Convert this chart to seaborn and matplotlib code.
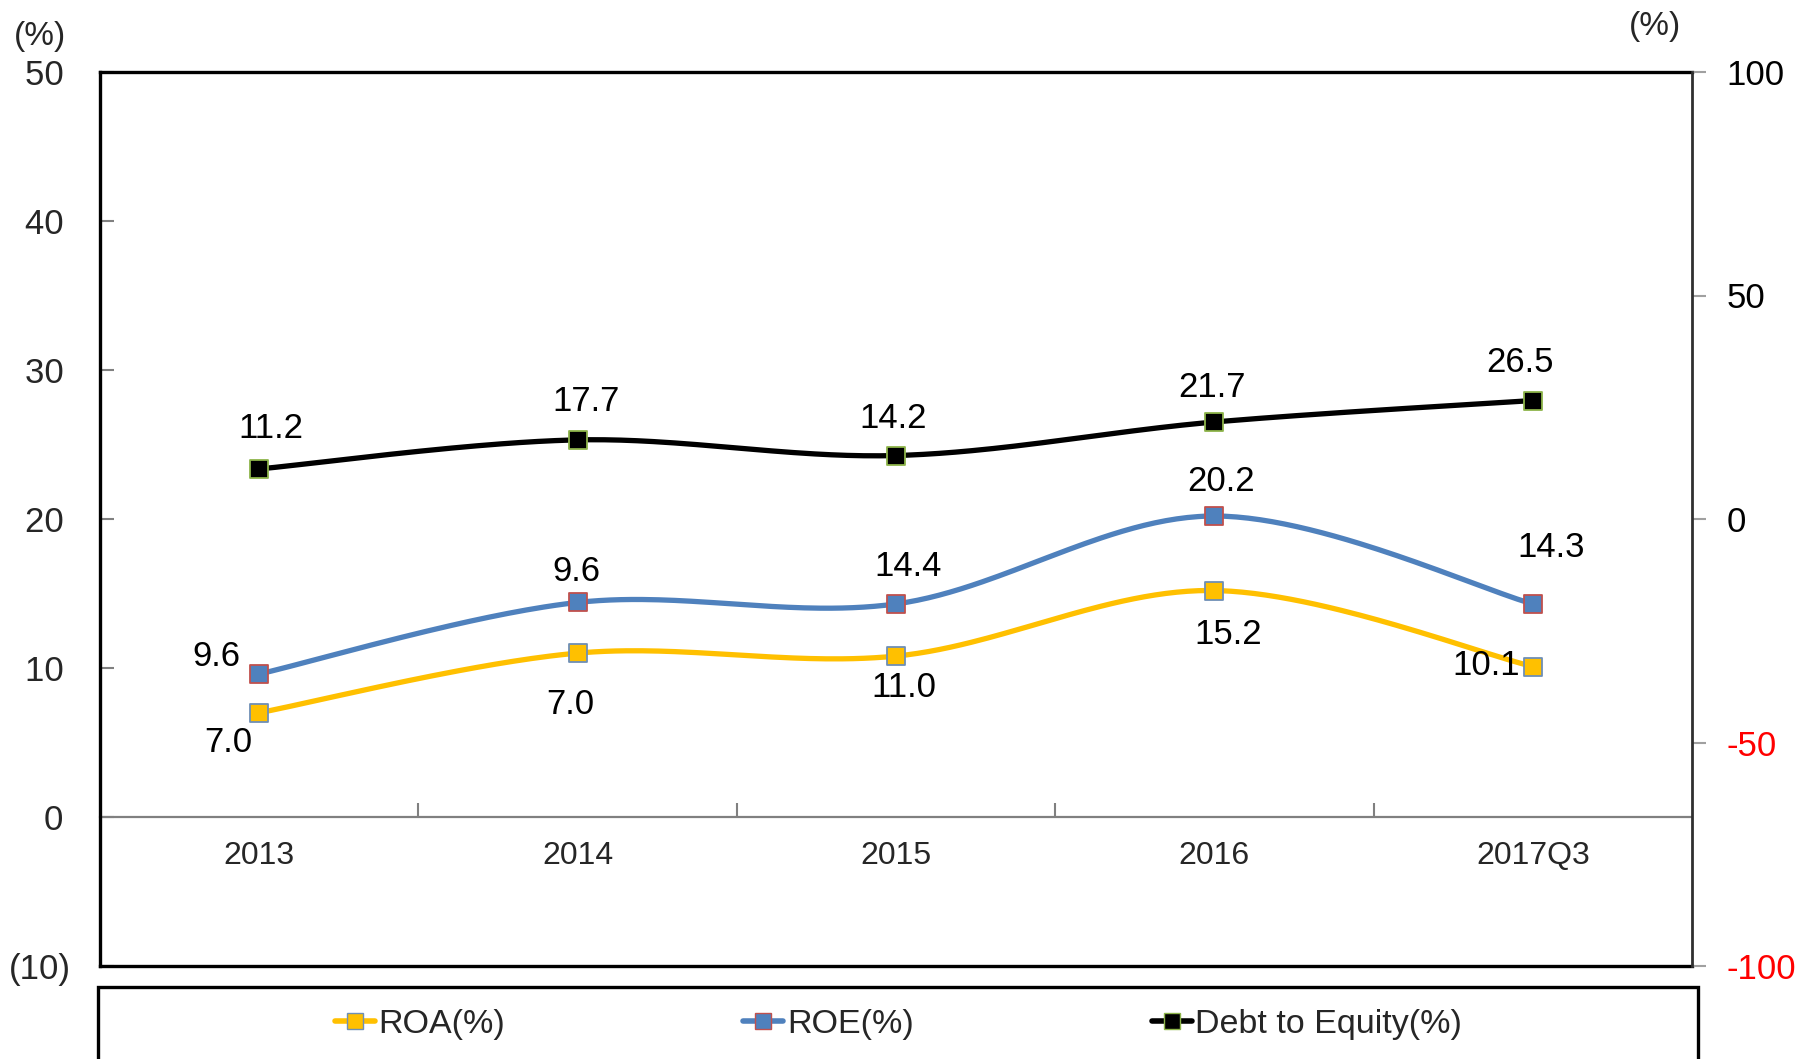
import numpy as np
import pandas as pd
import matplotlib
matplotlib.use("Agg")
import matplotlib.pyplot as plt
from matplotlib.lines import Line2D
from matplotlib.patches import Rectangle
import seaborn as sns

# ---- data -------------------------------------------------------------
periods = ["2013", "2014", "2015", "2016", "2017Q3"]
roa = [7.0, 11.0, 10.8, 15.2, 10.1]
roe = [9.6, 14.4, 14.3, 20.2, 14.3]
debt_to_equity = [11.2, 17.7, 14.2, 21.7, 26.5]

roa_labels = ["7.0", "7.0", "11.0", "15.2", "10.1"]
roe_labels = ["9.6", "9.6", "14.4", "20.2", "14.3"]
dte_labels = ["11.2", "17.7", "14.2", "21.7", "26.5"]

left_ticks = [-10, 0, 10, 20, 30, 40, 50]
left_tick_labels = ["(10)", "0\u2009", "10\u2009", "20\u2009", "30\u2009", "40\u2009", "50\u2009"]
right_ticks = [-100, -50, 0, 50, 100]
right_tick_labels = ["-100", "-50", "0", "50", "100"]
series_names = ["ROA(%)", "ROE(%)", "Debt to Equity(%)"]

# ---- style ------------------------------------------------------------
sns.set_style("white")
plt.rcParams["font.family"] = ["Liberation Sans", "DejaVu Sans"]

ROA_C, ROE_C, DTE_C = "#FFC000", "#4F81BD", "#000000"
ROA_EDGE, ROE_EDGE, DTE_EDGE = "#6E8FB5", "#C0504D", "#8DB44A"

LABEL_FS = 25

# label offsets in pixels (dx, dy) relative to each marker
roa_off = [(-31, -30), (-7, -51), (8, -31), (14, -44), (-47, 1)]
roe_off = [(-43, 17), (-1, 31), (12, 37), (7, 35), (18, 56)]
dte_off = [(12, 40), (8, 38), (-3, 37), (-2, 35), (-13, 38)]


def smooth(xs, ys, n=60):
    """Piecewise cubic Bezier through the points (spreadsheet-style smoothing)."""
    p = np.column_stack([xs, ys]).astype(float)
    ext = np.vstack([p[0], p, p[-1]])
    t = np.linspace(0, 1, n)[:, None]
    out = []
    for i in range(len(p) - 1):
        p0, p3 = p[i], p[i + 1]
        p1 = p0 + (ext[i + 2] - ext[i]) / 6
        p2 = p3 - (ext[i + 3] - ext[i + 1]) / 6
        seg = (1 - t) ** 3 * p0 + 3 * (1 - t) ** 2 * t * p1 + 3 * (1 - t) * t ** 2 * p2 + t ** 3 * p3
        out.append(seg if i == 0 else seg[1:])
    return np.vstack(out)


xpos = np.arange(len(periods))

fig = plt.figure(figsize=(18.06, 10.59), dpi=100)
ax = fig.add_axes([100 / 1806, 1 - 966 / 1059, 1592 / 1806, 894 / 1059])
ax2 = ax.twinx()

ax.set_xlim(-0.5, len(periods) - 0.5)
ax.set_ylim(-10, 50)
ax2.set_ylim(-100, 100)


def draw_series(axis, values, line_c, face_c, edge_c, labels, offsets):
    curve = smooth(xpos, values)
    df = pd.DataFrame({"x": curve[:, 0], "y": curve[:, 1]})
    sns.lineplot(data=df, x="x", y="y", ax=axis, sort=False, estimator=None,
                 color=line_c, linewidth=3.8, zorder=2)
    pts = pd.DataFrame({"x": xpos, "y": values})
    sns.scatterplot(data=pts, x="x", y="y", ax=axis, marker="s", s=150,
                    color=face_c, edgecolor=edge_c, linewidth=1.3, zorder=3)
    for xi, yi, lab, (dx, dy) in zip(xpos, values, labels, offsets):
        axis.annotate(lab, (xi, yi), xytext=(dx, dy), textcoords="offset pixels",
                      ha="center", va="center", fontsize=LABEL_FS, color="black", zorder=4)


draw_series(ax, roa, ROA_C, ROA_C, ROA_EDGE, roa_labels, roa_off)
draw_series(ax, roe, ROE_C, ROE_C, ROE_EDGE, roe_labels, roe_off)
draw_series(ax2, debt_to_equity, DTE_C, DTE_C, DTE_EDGE, dte_labels, dte_off)

for a in (ax, ax2):
    a.set_xlabel("")
    a.set_ylabel("")
    a.grid(False)

# frame
for side in ("left", "top", "bottom"):
    ax.spines[side].set_color("black")
    ax.spines[side].set_linewidth(2.4)
    ax2.spines[side].set_visible(False)
ax.spines["right"].set_visible(False)
ax2.spines["right"].set_color("#303030")
ax2.spines["right"].set_linewidth(2.0)

# left axis
ax.set_yticks(left_ticks, left_tick_labels)
ax.tick_params(axis="y", direction="in", length=10, width=1.5, color="#808080",
               pad=21, labelsize=LABEL_FS, left=True)
ax.tick_params(axis="x", bottom=False, labelbottom=False)

# right axis
ax2.set_yticks(right_ticks, right_tick_labels)
ax2.tick_params(axis="y", direction="out", length=10, width=1.5, color="#A0A0A0",
                pad=15, labelsize=LABEL_FS, right=True)
for lbl, val in zip(ax2.get_yticklabels(), right_ticks):
    lbl.set_color("#FF0000" if val < 0 else "black")

# category axis sitting on the zero line
sec = ax.secondary_xaxis(1 / 6)
sec.spines["bottom"].set_color("#808080")
sec.spines["bottom"].set_linewidth(1.6)
sec.set_xticks(xpos[:-1] + 0.5)
sec.set_xticks(xpos, periods, minor=True)
sec.tick_params(which="major", direction="in", length=10, width=1.5, color="#808080",
                labelbottom=False)
sec.tick_params(which="minor", length=0, pad=17, labelsize=23)

# unit captions
fig.text(40 / 1806, 1 - 36 / 1059, "(%)", ha="center", va="center", fontsize=24)
fig.text(1655 / 1806, 1 - 27 / 1059, "(%)", ha="center", va="center", fontsize=24)

# legend box
fig.add_artist(Rectangle((98 / 1806, -0.05), 1600 / 1806, 0.05 + 1 - 987 / 1059,
                         transform=fig.transFigure, fill=False, ec="black", lw=2.4,
                         clip_on=False))
handles = [
    Line2D([], [], color=ROA_C, lw=4, marker="s", markersize=11,
           markerfacecolor=ROA_C, markeredgecolor=ROA_EDGE),
    Line2D([], [], color=ROE_C, lw=4, marker="s", markersize=11,
           markerfacecolor=ROE_C, markeredgecolor=ROE_EDGE),
    Line2D([], [], color=DTE_C, lw=4, marker="s", markersize=11,
           markerfacecolor=DTE_C, markeredgecolor=DTE_EDGE),
]
fig.legend(handles, series_names, loc="center", bbox_to_anchor=(0.4975, 1 - 1024 / 1059),
           ncol=3, frameon=False, fontsize=24.5, handlelength=1.18, handletextpad=0.1,
           columnspacing=7.0)

fig.savefig("out.png", dpi=100)
